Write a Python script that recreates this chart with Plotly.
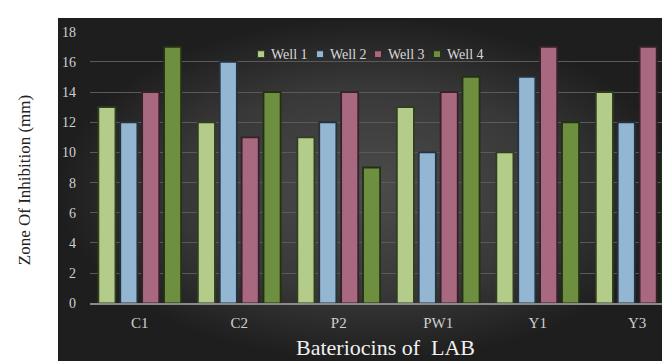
import plotly.graph_objects as go

categories = ["C1", "C2", "P2", "PW1", "Y1", "Y3"]
series_names = ["Well 1", "Well 2", "Well 3", "Well 4"]
well1 = [13, 12, 11, 13, 10, 14]
well2 = [12, 16, 12, 10, 15, 12]
well3 = [14, 11, 14, 14, 17, 17]
well4 = [17, 14, 9, 15, 12, 10]
y_ticks = [0, 2, 4, 6, 8, 10, 12, 14, 16, 18]

colors = ["#b3cc8a", "#93b6d3", "#a8687f", "#6f8f40"]
edge = ["#323e22", "#26323e", "#36202a", "#223014"]

FONT = "Liberation Serif, Times New Roman, serif"
W, H = 670, 361
L, T = 50, 10
pw, ph = W - L, H - T


def px(xp):
    return (xp - L) / pw


def py(yp):
    return (H - yp) / ph


fig = go.Figure()

# background panel with radial gradient (on its own full-size axes, drawn first)
fig.add_trace(go.Scatter(
    x=[0, 1, 1, 0, 0], y=[0, 0, 1, 1, 0], mode="lines", fill="toself",
    line=dict(width=0), hoverinfo="skip", showlegend=False,
    fillgradient=dict(type="radial", colorscale=[[0, "#4c4c4c"], [0.6, "#383838"], [1, "#1e1e1e"]]),
    xaxis="x", yaxis="y",
))

for name, vals, c, e in zip(series_names, [well1, well2, well3, well4], colors, edge):
    fig.add_trace(go.Bar(
        x=categories, y=vals, name=name, marker=dict(color=c, line=dict(color=e, width=1.8)),
        xaxis="x2", yaxis="y2", showlegend=False,
    ))

# custom compact legend (small square markers + text)
legend_x = [253, 312, 370, 429]
legend_y = 47
shapes = []
annotations = []
for name, c, e, lx in zip(series_names, colors, edge, legend_x):
    shapes.append(dict(type="rect", xref="paper", yref="paper",
                       x0=px(lx - 3.5), x1=px(lx + 3.5), y0=py(legend_y + 3.5), y1=py(legend_y - 3.5),
                       fillcolor=c, line=dict(color=e, width=1)))
    annotations.append(dict(text=name, x=px(lx + 8), y=py(legend_y), xref="paper", yref="paper",
                            showarrow=False, xanchor="left", yanchor="middle",
                            font=dict(family=FONT, size=14, color="#d8d8d8")))

annotations += [
    dict(text="Bateriocins of  LAB", x=px(377), y=py(347), xref="paper", yref="paper",
         showarrow=False, font=dict(family=FONT, size=22, color="#f0f0f0"), xanchor="center", yanchor="middle"),
    dict(text="Zone Of Inhibition (mm)", x=px(16), y=py(176), xref="paper", yref="paper",
         showarrow=False, textangle=-90, font=dict(family=FONT, size=17, color="#222222"),
         xanchor="center", yanchor="middle"),
]

fig.update_layout(
    width=W, height=H,
    margin=dict(l=L, r=0, t=T, b=0),
    paper_bgcolor="white",
    plot_bgcolor="rgba(0,0,0,0)",
    barmode="group", bargap=0.12, bargroupgap=0.22,
    showlegend=False,
    font=dict(family=FONT, color="#d8d8d8", size=14),
    xaxis=dict(domain=[0, 1], range=[0, 1], visible=False, fixedrange=True),
    yaxis=dict(domain=[0, 1], range=[0, 1], visible=False, fixedrange=True),
    xaxis2=dict(domain=[px(82), 1], anchor="y2", range=[-0.5, 5.41], showgrid=False,
                showline=True, linecolor="#8a8a8a", linewidth=1.5,
                tickfont=dict(family=FONT, size=15, color="#d0d0d0"), ticks="", ticklabelstandoff=5),
    yaxis2=dict(domain=[py(302), py(24)], anchor="x2", range=[0, 18], tickvals=y_ticks,
                showgrid=True, gridcolor="#5a5a5a", gridwidth=1, zeroline=False,
                tickfont=dict(family=FONT, size=14, color="#d0d0d0"), ticks="", ticklabelstandoff=13),
    shapes=shapes,
    annotations=annotations,
)

fig.write_html("out.html")
